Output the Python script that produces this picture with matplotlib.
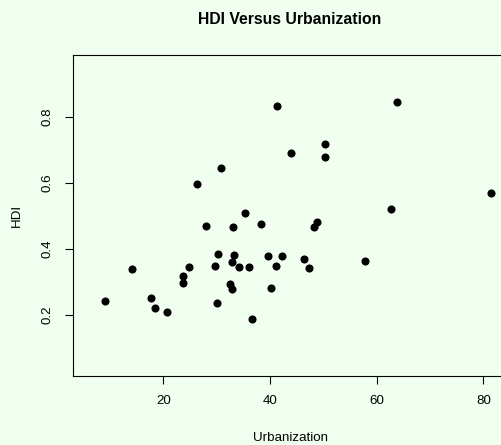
import matplotlib
matplotlib.use("Agg")
import matplotlib.pyplot as plt

# Urbanization (%) and HDI
urbanization = [9.0, 14.2, 17.6, 18.5, 20.6, 23.75, 23.7, 24.9, 26.4, 28.0,
                29.6, 30.3, 30.0, 30.9, 32.5, 32.8, 32.9, 33.1, 33.3, 34.2,
                35.3, 36.1, 36.6, 38.4, 39.6, 40.2, 41.2, 41.3, 42.3, 44.0,
                46.4, 47.4, 48.2, 48.9, 50.4, 50.4, 57.75, 62.6, 63.8, 81.4]
hdi = [0.241, 0.339, 0.252, 0.219, 0.207, 0.318, 0.295, 0.344, 0.597, 0.470,
       0.348, 0.383, 0.236, 0.644, 0.292, 0.277, 0.359, 0.465, 0.381, 0.344,
       0.507, 0.344, 0.186, 0.474, 0.378, 0.282, 0.347, 0.833, 0.379, 0.691,
       0.368, 0.342, 0.465, 0.481, 0.717, 0.678, 0.362, 0.519, 0.844, 0.568]
x_ticks = [20, 40, 60, 80]
y_ticks = [0.2, 0.4, 0.6, 0.8]

bg = "#f0fff0"
plt.rcParams['font.family'] = ['Liberation Sans', 'DejaVu Sans']

W, H = 502, 445
fig = plt.figure(figsize=(W / 100, H / 100), dpi=100, facecolor=bg)
# plot region runs a little past the right edge, as in the reference
left, right, top, bottom = 73.3, 507, 55, 375.5
ax = fig.add_axes([left / W, 1 - bottom / H, (right - left) / W, (bottom - top) / H])
ax.set_facecolor(bg)

ax.scatter(urbanization, hdi, s=34, color="black", linewidths=0, zorder=3)

ax.set_xlim(3.12, 84.44)
ax.set_ylim(0.0157, 0.9869)
ax.set_xticks(x_ticks)
ax.set_yticks(y_ticks)
ax.set_xticklabels([str(t) for t in x_ticks])
ax.set_yticklabels([str(t) for t in y_ticks], rotation=90, va="center")
ax.tick_params(direction="out", length=6, width=0.8, labelsize=9.6, pad=8, colors="black")
ax.tick_params(axis="y", pad=8)
for s in ax.spines.values():
    s.set_linewidth(0.8)
    s.set_color("black")

fig.text(290 / W, 1 - 20 / H, "HDI Versus Urbanization", ha="center", va="center",
         fontsize=11.3, fontweight="bold")
fig.text(290 / W, 1 - 438 / H, "Urbanization", ha="center", va="center", fontsize=9.6)
fig.text(17 / W, 1 - 215 / H, "HDI", ha="center", va="center", rotation=90, fontsize=9.6)

fig.savefig("out.png", dpi=100, facecolor=bg)
